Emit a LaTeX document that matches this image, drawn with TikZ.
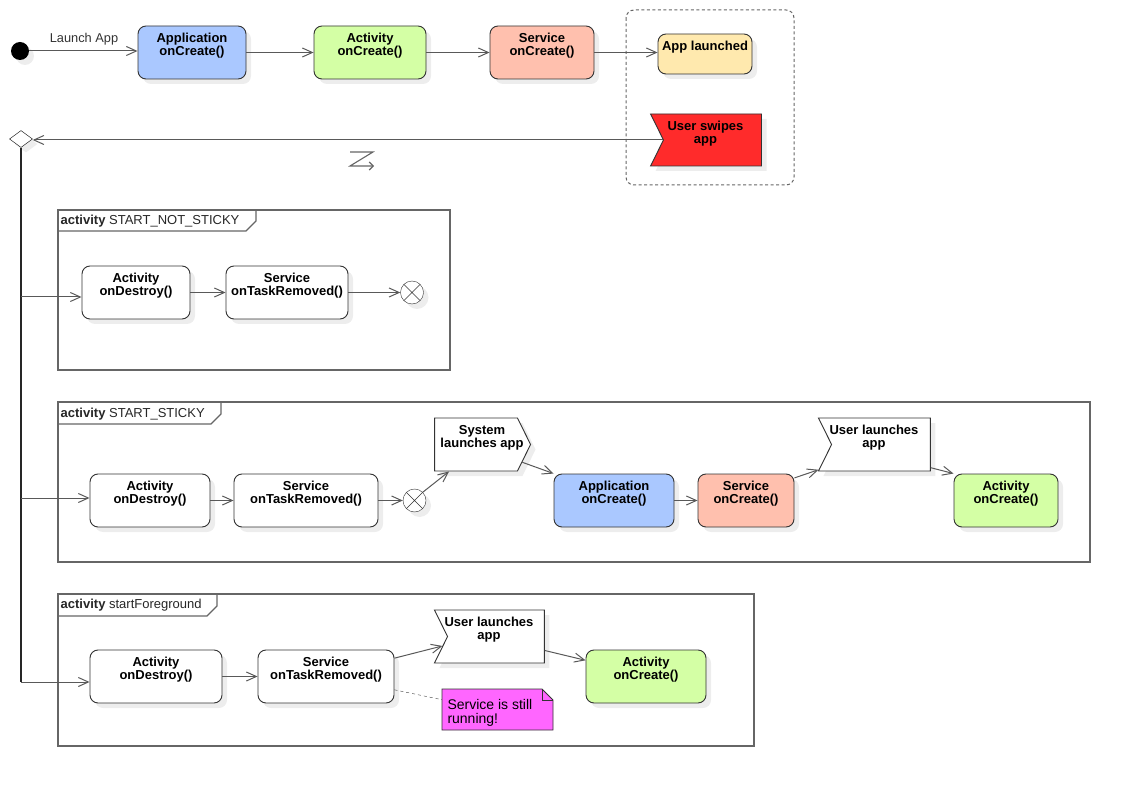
\documentclass[tikz,border=0pt]{standalone}
\usepackage{fontspec}
\setmainfont{Liberation Sans}
\usetikzlibrary{arrows.meta,shapes.geometric,shapes.symbols,shadows}
\definecolor{appblue}{HTML}{AAC8FF}
\definecolor{actgreen}{HTML}{D4FFA5}
\definecolor{svcsalmon}{HTML}{FFC0AE}
\definecolor{launchyellow}{HTML}{FFE9AE}
\definecolor{swipered}{HTML}{FF2B2B}
\definecolor{notepink}{HTML}{FF66FF}

\begin{document}
\begin{tikzpicture}[x=1pt, y=-1pt,
  boxshadow/.style={drop shadow={shadow xshift=5pt, shadow yshift=-5pt, fill=black!7, opacity=1}},
  txt/.style={anchor=north, yshift=-7.5pt, inner sep=0pt, align=center, font=\fontsize{13}{12.8}\selectfont\bfseries},
  actbox/.style={draw=black!80, line width=0.9pt, rounded corners=8pt, fill=white, minimum height=53pt, inner sep=0pt, boxshadow, label={[txt]north:#1}},
  recvsig/.style={signal, signal from=west, signal to=nowhere, signal pointer angle=127, draw=black!80, line width=0.9pt, fill=white, minimum height=53pt, inner sep=0pt, boxshadow, label={[txt, xshift=-7pt]north:#1}},
  sendsig/.style={signal, signal to=east, signal pointer angle=127, draw=black!80, line width=0.9pt, fill=white, minimum height=53pt, inner sep=0pt, boxshadow, label={[txt, xshift=6pt]north:#1}},
  startdot/.style={circle, fill=black, minimum size=18pt, inner sep=0pt, boxshadow},
  flowend/.style={circle, draw=black!80, fill=white, minimum size=23pt, inner sep=0pt, boxshadow,
    path picture={\draw[black!80] (path picture bounding box.north west) -- (path picture bounding box.south east) (path picture bounding box.north east) -- (path picture bounding box.south west);}},
  flow/.style={draw=black!65, line width=1pt, -{Straight Barb[length=10pt, width=9pt]}},
  trunk/.style={draw=black!85, line width=1.3pt},
  frame/.style={draw=black!60, line width=1.2pt},
  framelbl/.style={anchor=base west, inner sep=0pt, font=\fontsize{13}{13}\selectfont, text=black!85},
  notetxt/.style={anchor=north west, inner sep=0pt, xshift=5.5pt, yshift=-10pt, align=left, font=\fontsize{14}{14.5}\selectfont}]
\useasboundingbox (0,0) rectangle (1130,786);

\draw[black!60, line width=1pt, dash pattern=on 3pt off 2.5pt, rounded corners=8pt] (626,10) rectangle (794,185);

\node[startdot] (start) at (20,51) {};
\node[anchor=base, inner sep=0pt, font=\fontsize{12.8}{13}\selectfont, text=black!80] (launchlbl) at (84,42.5) {Launch App};
\node[actbox={Application\\onCreate()}, fill=appblue, minimum width=108pt] (app1) at (192,52.5) {};
\node[actbox={Activity\\onCreate()}, fill=actgreen, minimum width=112pt] (act1) at (370,52.5) {};
\node[actbox={Service\\onCreate()}, fill=svcsalmon, minimum width=104pt] (svc1) at (542,52.5) {};
\node[actbox={App launched}, fill=launchyellow, minimum width=94pt, minimum height=40pt] (launched) at (705,54) {};
\node[recvsig={User swipes\\app}, fill=swipered, minimum width=111pt, minimum height=52pt] (swipe) at (712.5,140) {};
\node[diamond, draw=black, fill=white, minimum width=23pt, minimum height=17pt, inner sep=0pt, boxshadow] (merge) at (21,139) {};

\draw[flow] (start.east) -- (start.east -| app1.west);
\draw[flow] (app1) -- (act1);
\draw[flow] (act1) -- (svc1);
\draw[flow] (svc1.east) -- (svc1.east -| launched.west);
\draw[flow] (swipe.west) -- (swipe.west -| merge.east);
\draw[black!60, line width=1.1pt, -{Straight Barb[length=4pt, width=8pt]}] (350,152) -- (373,152) -- (350,166) -- (374,166);

\coordinate (b1) at (21,297);
\coordinate (b2) at (21,498);
\coordinate (b3) at (21,682);
\draw[trunk] (merge.south) -- (b3);

\draw[frame] (58,210) rectangle (450,370);
\draw[frame] (58,231) -- (246,231) -- (256,221) -- (256,210);
\node[framelbl] (f1lbl) at (60.5,225) {\textbf{activity} START\_NOT\_STICKY};
\node[actbox={Activity\\onDestroy()}, minimum width=108pt] (ad1) at (136,292.5) {};
\node[actbox={Service\\onTaskRemoved()}, minimum width=122pt] (tr1) at (287,292.5) {};
\node[flowend] (end1) at (412,292.5) {};
\draw[flow] (b1) -- (b1 -| ad1.west);
\draw[flow] (ad1) -- (tr1);
\draw[flow] (tr1) -- (end1);

\draw[frame] (58,402) rectangle (1090,562);
\draw[frame] (58,424) -- (211,424) -- (221,414) -- (221,402);
\node[framelbl] (f2lbl) at (60.5,417) {\textbf{activity} START\_STICKY};
\node[actbox={Activity\\onDestroy()}, minimum width=120pt] (ad2) at (150,500.5) {};
\node[actbox={Service\\onTaskRemoved()}, minimum width=144pt] (tr2) at (306,500.5) {};
\node[flowend] (end2) at (414.5,500.5) {};
\node[sendsig={System\\launches app}, minimum width=96pt] (sysl) at (476,444.5) {};
\node[actbox={Application\\onCreate()}, fill=appblue, minimum width=120pt] (app2) at (614,500.5) {};
\node[actbox={Service\\onCreate()}, fill=svcsalmon, minimum width=96pt] (svc2) at (746,500.5) {};
\node[recvsig={User launches\\app}, minimum width=112pt] (usrl2) at (881,444.5) {};
\node[actbox={Activity\\onCreate()}, fill=actgreen, minimum width=104pt] (act2) at (1006,500.5) {};
\draw[flow] (b2) -- (b2 -| ad2.west);
\draw[flow] (ad2) -- (tr2);
\draw[flow] (tr2) -- (end2);
\draw[flow] (end2.45) -- (sysl.-135);
\draw[flow] (sysl.-21) -- (app2.north west);
\draw[flow] (app2) -- (svc2);
\draw[flow] (svc2.25) -- (usrl2.-158);
\draw[flow] (usrl2.-25) -- (act2.north west);

\draw[frame] (58,594) rectangle (754,746);
\draw[frame] (58,616) -- (207,616) -- (217,606) -- (217,594);
\node[framelbl] (f3lbl) at (60.5,608.5) {\textbf{activity} startForeground};
\node[actbox={Activity\\onDestroy()}, minimum width=132pt] (ad3) at (156,676.5) {};
\node[actbox={Service\\onTaskRemoved()}, minimum width=136pt] (tr3) at (326,676.5) {};
\node[recvsig={User launches\\app}, minimum width=110pt] (usrl3) at (496,636.5) {};
\node[actbox={Activity\\onCreate()}, fill=actgreen, minimum width=120pt] (act3) at (646,676.5) {};
\filldraw[fill=notepink, draw=black!80, line width=0.9pt] (442,689) -- (542,689) -- (553,700) -- (553,730) -- (442,730) -- cycle;
\draw[black!80, line width=0.9pt] (542,689) -- (542,700) -- (553,700);
\node[minimum width=111pt, minimum height=41pt, inner sep=0pt, label={[notetxt]north west:{Service is still\\running!}}] (note) at (497.5,709.5) {};
\draw[flow] (b3) -- (b3 -| ad3.west);
\draw[flow] (ad3) -- (tr3);
\draw[flow] (tr3.15) -- (usrl3.-170);
\draw[flow] (usrl3.-16) -- (act3.165);
\draw[black!80, dashed] (tr3.-11) -- (note.170);
\end{tikzpicture}
\end{document}
